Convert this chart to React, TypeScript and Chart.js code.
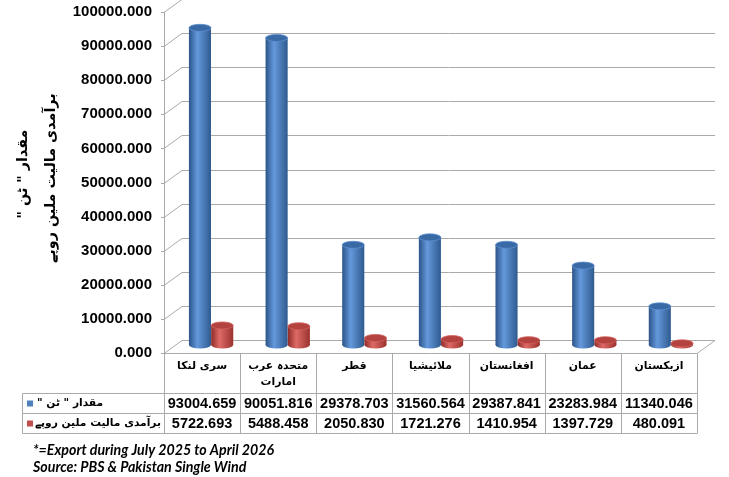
import React, { useEffect, useRef } from 'react';
import { Chart, registerables } from 'chart.js';

Chart.register(...registerables);

// ---------- data ----------
const categories: string[][] = [
  ['سری لنکا'],
  ['متحدہ عرب', 'امارات'],
  ['قطر'],
  ['ملائیشیا'],
  ['افغانستان'],
  ['عمان'],
  ['ازبکستان'],
];
const quantityTons = [93004.659, 90051.816, 29378.703, 31560.564, 29387.841, 23283.984, 11340.046];
const valueMillionRs = [5722.693, 5488.458, 2050.83, 1721.276, 1410.954, 1397.729, 480.091];
const seriesNames = ['مقدار " ٹن "', 'برآمدی مالیت ملین روپے'];
const yTitleLines = ['مقدار " ٹن "', 'برآمدی مالیت ملین روپے'];
const footnotes = ['*=Export during July 2025 to April 2026', 'Source: PBS & Pakistan Single Wind'];
const yMin = 0;
const yMax = 100000;
const yStep = 10000;

// ---------- styles ----------
const LATIN = "'Liberation Sans', Arial, 'DejaVu Sans', sans-serif";
const URDU = "'DejaVu Sans', 'Liberation Sans', sans-serif";
const GRID = '#aaaaaa';
const DEPTH_X = 18;
const DEPTH_Y = -13;
const seriesStyle = [
  { dark: '#2b5488', light: '#6499dc', dark2: '#2f5a8e', top: '#3a6aa6', rim: '#5d8fd0', swatch: '#4f81bd' },
  { dark: '#8e2b28', light: '#de6a66', dark2: '#9a322f', top: '#b4423f', rim: '#d0605c', swatch: '#c0504d' },
];

function fitSize(ctx: CanvasRenderingContext2D, text: string, base: number, target: number, style: string) {
  ctx.font = `${style} ${base}px ${URDU}`;
  const w = ctx.measureText(text).width;
  return w > 0 ? Math.min(base, (base * target) / w) : base;
}

function drawCylinder(ctx: CanvasRenderingContext2D, left: number, right: number, top: number, bottom: number, s: any) {
  const cx = (left + right) / 2;
  const rx = (right - left) / 2;
  const ry = Math.max(2.5, rx * 0.32);
  const g = ctx.createLinearGradient(left, 0, right, 0);
  g.addColorStop(0, s.dark);
  g.addColorStop(0.38, s.light);
  g.addColorStop(1, s.dark2);
  ctx.save();
  ctx.fillStyle = g;
  ctx.fillRect(left, top, right - left, Math.max(0, bottom - top));
  ctx.beginPath();
  ctx.ellipse(cx, bottom, rx, ry, 0, 0, Math.PI * 2);
  ctx.fill();
  ctx.beginPath();
  ctx.ellipse(cx, top, rx, ry, 0, 0, Math.PI * 2);
  ctx.fillStyle = s.top;
  ctx.fill();
  ctx.lineWidth = 0.8;
  ctx.strokeStyle = s.rim;
  ctx.stroke();
  ctx.restore();
}

const backWallPlugin = {
  id: 'backWall',
  beforeDatasetsDraw(chart: any) {
    const { ctx, chartArea, scales } = chart;
    const y = scales.y;
    const left = chartArea.left;
    const right = chartArea.right;
    ctx.save();
    ctx.strokeStyle = GRID;
    ctx.lineWidth = 1;
    for (let v = yMin; v <= yMax; v += yStep) {
      const py = Math.round(y.getPixelForValue(v)) + 0.5;
      ctx.beginPath();
      ctx.moveTo(left - 3, py);
      ctx.lineTo(left, py);
      ctx.lineTo(left + DEPTH_X, py + DEPTH_Y);
      ctx.lineTo(right + DEPTH_X, py + DEPTH_Y);
      ctx.stroke();
    }
    const p0 = Math.round(y.getPixelForValue(0)) + 0.5;
    ctx.beginPath();
    ctx.moveTo(right, p0);
    ctx.lineTo(right + DEPTH_X, p0 + DEPTH_Y);
    ctx.stroke();
    ctx.restore();
  },
};

const cylinderPlugin = {
  id: 'cylinders',
  afterDatasetsDraw(chart: any) {
    const { ctx } = chart;
    const n = chart.data.labels.length;
    for (let i = 0; i < n; i++) {
      chart.data.datasets.forEach((_: any, di: number) => {
        const el = chart.getDatasetMeta(di).data[i];
        if (!el) return;
        const p = el.getProps(['x', 'y', 'base', 'width'], true);
        const dx = 9 + (3 * (p.x - 200)) / 460;
        const dy = -8;
        drawCylinder(ctx, p.x - p.width / 2 + dx, p.x + p.width / 2 + dx, p.y + dy, p.base + dy, seriesStyle[di]);
      });
    }
  },
};

const tablePlugin = {
  id: 'dataTable',
  afterDraw(chart: any) {
    const { ctx, chartArea, scales } = chart;
    const xs = scales.x;
    const left = chartArea.left;
    const right = chartArea.right;
    const top = Math.round(chartArea.bottom) + 0.5;
    const rowH = [40, 20, 20];
    const r1 = top + rowH[0];
    const r2 = r1 + rowH[1];
    const r3 = r2 + rowH[2];
    const legendLeft = 22.5;
    const n = categories.length;
    const colW = (right - left) / n;

    ctx.save();
    ctx.strokeStyle = GRID;
    ctx.lineWidth = 1;
    ctx.beginPath();
    ctx.moveTo(left, top);
    ctx.lineTo(right, top);
    [r1, r2, r3].forEach((yy) => {
      ctx.moveTo(legendLeft, yy);
      ctx.lineTo(right, yy);
    });
    for (let i = 0; i <= n; i++) {
      const xx = Math.round(left + i * colW) + 0.5;
      ctx.moveTo(xx, i === 0 ? chartArea.top : top);
      ctx.lineTo(xx, r3);
    }
    ctx.moveTo(legendLeft, r1);
    ctx.lineTo(legendLeft, r3);
    ctx.stroke();

    // header labels
    ctx.fillStyle = '#000';
    ctx.textAlign = 'center';
    ctx.textBaseline = 'middle';
    ctx.direction = 'rtl';
    const hs = fitSize(ctx, categories[0][0], 12.5, 50, 'bold');
    ctx.font = `bold ${hs}px ${URDU}`;
    categories.forEach((lines, i) => {
      const cx = xs.getPixelForValue(i);
      lines.forEach((t, li) => ctx.fillText(t, cx, top + 13 + li * 16));
    });

    // values
    ctx.direction = 'ltr';
    ctx.font = `bold 14.5px ${LATIN}`;
    [quantityTons, valueMillionRs].forEach((arr, ri) => {
      const cy = (ri === 0 ? r1 : r2) + 10.5;
      arr.forEach((v, i) => ctx.fillText(v.toFixed(3), xs.getPixelForValue(i), cy));
    });

    // legend cells
    const lsz = fitSize(ctx, seriesNames[1], 12.5, 127, 'bold');
    seriesNames.forEach((name, ri) => {
      const cy = (ri === 0 ? r1 : r2) + 10;
      ctx.fillStyle = seriesStyle[ri].swatch;
      ctx.fillRect(27, cy - 3, 6, 6);
      ctx.fillStyle = '#000';
      ctx.font = `bold ${lsz}px ${URDU}`;
      ctx.direction = 'rtl';
      ctx.textAlign = 'left';
      ctx.fillText(name, ri === 0 ? 37 : 35, cy);
    });

    // y title
    const tsz = fitSize(ctx, yTitleLines[1], 15, 170, 'bold');
    ctx.save();
    ctx.translate(37, 178);
    ctx.rotate(-Math.PI / 2);
    ctx.font = `bold ${tsz}px ${URDU}`;
    ctx.textAlign = 'center';
    ctx.direction = 'rtl';
    ctx.fillStyle = '#000';
    ctx.fillText(yTitleLines[0], 4, -14);
    ctx.fillText(yTitleLines[1], 0, 14);
    ctx.restore();

    // footnotes
    ctx.direction = 'ltr';
    ctx.textAlign = 'left';
    ctx.fillStyle = '#000';
    ctx.font = `italic bold 14.2px Lato, 'Open Sans', sans-serif`;
    footnotes.forEach((t, i) => ctx.fillText(t, 33, 450 + i * 17));
    ctx.restore();
  },
};

export default function App() {
  const ref = useRef<HTMLCanvasElement>(null);
  useEffect(() => {
    if (!ref.current) return;
    const chart = new Chart(ref.current, {
      type: 'bar',
      data: {
        labels: categories.map((c) => c.join(' ')),
        datasets: [
          {
            label: seriesNames[0],
            data: quantityTons,
            backgroundColor: 'rgba(0,0,0,0)',
            borderWidth: 0,
            categoryPercentage: 0.58,
            barPercentage: 1,
          },
          {
            label: seriesNames[1],
            data: valueMillionRs,
            backgroundColor: 'rgba(0,0,0,0)',
            borderWidth: 0,
            categoryPercentage: 0.58,
            barPercentage: 1,
          },
        ],
      },
      options: {
        responsive: false,
        devicePixelRatio: 1,
        animation: false,
        layout: { padding: { left: 0, top: 12, right: 32, bottom: 124 } },
        plugins: { legend: { display: false }, tooltip: { enabled: false }, title: { display: false } },
        scales: {
          x: { display: false },
          y: {
            min: yMin,
            max: yMax,
            afterFit: (s: any) => {
              s.width = 164;
              s.paddingTop = 0;
              s.paddingBottom = 0;
            },
            ticks: {
              stepSize: yStep,
              padding: 12,
              color: '#000',
              font: { family: LATIN, size: 15, weight: 'bold' },
              callback: (v: any) => Number(v).toFixed(3),
            },
            grid: { display: false, drawTicks: false },
            border: { display: true, color: GRID, width: 1 },
          },
        },
      },
      plugins: [backWallPlugin, cylinderPlugin, tablePlugin],
    } as any);
    return () => chart.destroy();
  }, []);
  return (
    <div style={{ position: 'absolute', left: 0, top: 0, width: 729, height: 477, background: '#fff' }}>
      <canvas ref={ref} width={729} height={477} style={{ display: 'block' }} />
    </div>
  );
}
